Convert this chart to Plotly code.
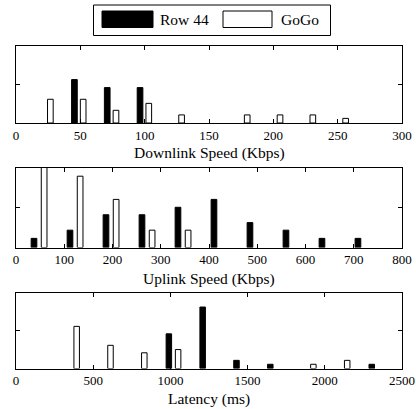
import plotly.graph_objects as go

# ---------------- data ----------------
# Downlink speed (Kbps) histogram bins
down_bins_row44 = [48.8, 74.3, 99.8]
down_row44 = [5.64, 4.6, 4.6]
down_bins_gogo = [23.3, 48.8, 74.3, 99.8, 125.3, 176.3, 201.8, 227.3, 252.8]
down_gogo = [3.08, 3.08, 1.65, 2.55, 1.05, 1.05, 1.05, 1.05, 0.6]

# Uplink speed (Kbps)
up_bins_row44 = [47.8, 122.4, 197.0, 271.6, 346.2, 420.8, 495.4, 570.0, 644.6, 719.2]
up_row44 = [1.15, 2.18, 4.12, 4.12, 5.06, 6.05, 3.13, 2.18, 1.15, 1.15]
up_bins_gogo = [47.8, 122.4, 197.0, 271.6, 346.2]
up_gogo = [14.0, 8.97, 6.05, 2.18, 2.18]

# Latency (ms)
lat_bins_row44 = [1020, 1239, 1458, 1677, 2334]
lat_row44 = [4.59, 8.14, 1.08, 0.56, 0.56]
lat_bins_gogo = [363, 582, 801, 1020, 1896, 2115]
lat_gogo = [5.58, 3.07, 2.08, 2.51, 0.56, 1.08]

series_names = ["Row 44", "GoGo"]
axis_titles = ["Downlink Speed (Kbps)", "Uplink Speed (Kbps)", "Latency (ms)"]
x_ranges = [[0, 300], [0, 800], [0, 2500]]
x_dticks = [50, 100, 500]

# ---------------- layout helpers ----------------
W, H = 416, 409
def px_x(p):
    return p / W
def px_y(p):
    return 1 - p / H

FONT = "'Liberation Serif', 'Times New Roman', Times, serif"
# panel boxes in pixels (top, bottom)
boxes = [(46, 123), (168, 247.5), (293, 368.5)]
x_dom = [px_x(16), px_x(402)]
# bar geometry per panel: (row44 offset, gogo offset, width) in data units
geom = [(-5.6, 1.2, 4.4), (-16.4, 4.6, 11.8), (-47.8, 12.2, 35.6)]

panels = [
    (down_bins_row44, down_row44, down_bins_gogo, down_gogo),
    (up_bins_row44, up_row44, up_bins_gogo, up_gogo),
    (lat_bins_row44, lat_row44, lat_bins_gogo, lat_gogo),
]

fig = go.Figure()
for i, (xr, yr, xg, yg) in enumerate(panels):
    sfx = "" if i == 0 else str(i + 1)
    o_r, o_g, w = geom[i]
    fig.add_trace(go.Bar(x=xr, y=yr, name=series_names[0], offset=o_r, width=w,
                         marker=dict(color="black", line=dict(color="black", width=1)),
                         xaxis="x" + sfx, yaxis="y" + sfx, showlegend=False))
    fig.add_trace(go.Bar(x=xg, y=yg, name=series_names[1], offset=o_g, width=w,
                         marker=dict(color="white", line=dict(color="black", width=1)),
                         xaxis="x" + sfx, yaxis="y" + sfx, showlegend=False))

layout = dict(
    width=W, height=H,
    margin=dict(l=0, r=0, t=0, b=0, autoexpand=False),
    paper_bgcolor="white", plot_bgcolor="white",
    barmode="overlay", showlegend=False,
    font=dict(family=FONT, color="black"),
)
for i in range(3):
    sfx = "" if i == 0 else str(i + 1)
    top, bot = boxes[i]
    layout["xaxis" + sfx] = dict(
        range=x_ranges[i], domain=x_dom, anchor="y" + sfx,
        tick0=0, dtick=x_dticks[i], ticks="inside", ticklen=4, tickcolor="black",
        showline=True, linecolor="black", linewidth=1, mirror="ticks",
        showgrid=False, zeroline=False,
        tickfont=dict(family=FONT, size=13, color="black"),
    )
    layout["yaxis" + sfx] = dict(
        range=[0, 10], domain=[px_y(bot), px_y(top)], anchor="x" + sfx,
        tickvals=[5], showticklabels=False, ticks="inside", ticklen=4, tickcolor="black",
        showline=True, linecolor="black", linewidth=1, mirror="ticks",
        showgrid=False, zeroline=False,
    )
fig.update_layout(**layout)

# axis titles
title_y = [153, 279, 399]
for i in range(3):
    fig.add_annotation(text=axis_titles[i], xref="paper", yref="paper",
                       x=px_x(209), y=px_y(title_y[i]), xanchor="center", yanchor="middle",
                       showarrow=False, font=dict(family=FONT, size=15.5, color="black"))

# legend (drawn box with wide swatches)
fig.add_shape(type="rect", xref="paper", yref="paper",
              x0=px_x(93.5), x1=px_x(330.5), y0=px_y(35.5), y1=px_y(5),
              line=dict(color="black", width=1), fillcolor="white")
fig.add_shape(type="rect", xref="paper", yref="paper",
              x0=px_x(102), x1=px_x(153), y0=px_y(27.5), y1=px_y(11),
              line=dict(color="black", width=1), fillcolor="black")
fig.add_shape(type="rect", xref="paper", yref="paper",
              x0=px_x(223), x1=px_x(272), y0=px_y(27.5), y1=px_y(11),
              line=dict(color="black", width=1), fillcolor="white")
for txt, xp in [(series_names[0], 157.5), (series_names[1], 278.5)]:
    fig.add_annotation(text=txt, xref="paper", yref="paper", x=px_x(xp), y=px_y(19.5),
                       xanchor="left", yanchor="middle", showarrow=False,
                       font=dict(family=FONT, size=15.5, color="black"))

fig.write_html("out.html", config={"displayModeBar": False},
               post_script="document.body.style.margin='0';document.body.style.overflow='hidden';")
